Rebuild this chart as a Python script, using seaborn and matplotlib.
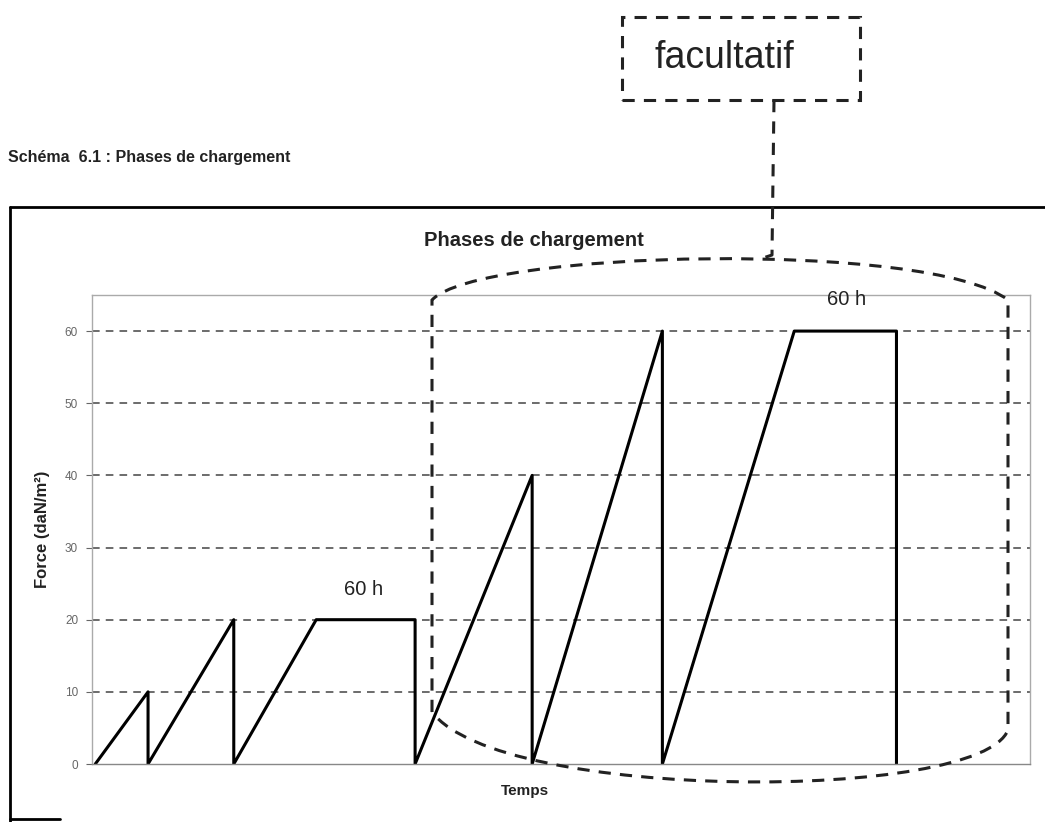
import numpy as np
import pandas as pd
import matplotlib
matplotlib.use("Agg")
import matplotlib.pyplot as plt
import seaborn as sns
from matplotlib.path import Path
from matplotlib.patches import PathPatch, Rectangle
from matplotlib.lines import Line2D

# Loading profile (time in hours, force in daN/m²)
temps = [0, 32, 32, 84, 84, 134, 194, 194, 265, 265, 344, 344, 424, 486, 486]
force = [0, 10, 0, 20, 0, 20, 20, 0, 40, 0, 60, 0, 60, 60, 0]
y_ticks = [0, 10, 20, 30, 40, 50, 60]
plateau_labels = ["60 h", "60 h"]
plateau_x = [163, 456]
plateau_y = [22.8, 63.0]

W, H = 1045, 822


def px(x, y):
    # pixel position -> figure fraction
    return x / W, 1 - y / H


sns.set_theme(style="white")
plt.rcParams['font.family'] = ['Liberation Sans', 'DejaVu Sans']

fig = plt.figure(figsize=(W / 100, H / 100), dpi=100)
ax = fig.add_axes([92 / W, 1 - 764 / H, (1030 - 92) / W, (764 - 295) / H])

df = pd.DataFrame({"Temps": temps, "Force": force})
sns.lineplot(data=df, x="Temps", y="Force", sort=False, estimator=None,
             color="black", linewidth=2.2, ax=ax)

ax.set_xlim(-2, 567)
ax.set_ylim(0, 65)
ax.set_yticks(y_ticks)
ax.set_xticks([])
ax.tick_params(axis="y", labelsize=8.5, colors="#666666", length=4, width=0.8, left=True, pad=6)
for yt in y_ticks[1:]:
    ax.axhline(yt, color="#444444", linewidth=1.1, linestyle=(0, (5, 4)), zorder=0)
for s in ax.spines.values():
    s.set_color("#aaaaaa")
    s.set_linewidth(1)
ax.spines["bottom"].set_color("#888888")

ax.set_xlabel("Temps", fontsize=11, fontweight="bold", color="#222222")
ax.set_ylabel("Force (daN/m²)", fontsize=12, fontweight="bold", color="#222222")
ax.xaxis.set_label_coords(0.462, -0.042)
ax.yaxis.set_label_coords(-0.045, 0.5)

for lab, xx, yy in zip(plateau_labels, plateau_x, plateau_y):
    ax.text(xx, yy, lab, fontsize=14.5, ha="center", va="bottom", color="#222222")

# Titles
fig.text(*px(8, 157), "Schéma  6.1 : Phases de chargement", fontsize=11.5,
         fontweight="bold", ha="left", va="center", color="#222222")
fig.text(*px(534, 241), "Phases de chargement", fontsize=14.5,
         fontweight="bold", ha="center", va="center", color="#222222")

# Outer frame
fig.add_artist(Line2D([px(10, 0)[0], px(10, 0)[0]], [px(0, 207)[1], px(0, 822)[1]],
                      color="black", linewidth=2, transform=fig.transFigure))
fig.add_artist(Line2D([px(10, 0)[0], 1.0], [px(0, 207)[1], px(0, 207)[1]],
                      color="black", linewidth=2, transform=fig.transFigure))
fig.add_artist(Line2D([px(10, 0)[0], px(60, 0)[0]], [px(0, 819)[1], px(0, 819)[1]],
                      color="black", linewidth=2, transform=fig.transFigure))

dash = (0, (4, 3))

# "facultatif" box
x0, y0 = px(622, 100)
x1, y1 = px(860, 17)
fig.add_artist(Rectangle((x0, y0), x1 - x0, y1 - y0, fill=False, edgecolor="#222222",
                         linewidth=2.2, linestyle=dash, transform=fig.transFigure))
fig.text(*px(724, 58), "facultatif", fontsize=27, ha="center", va="center", color="#222222")

# connector
cx = [px(774, 100), px(772, 255), px(760, 259)]
fig.add_artist(Line2D([p[0] for p in cx], [p[1] for p in cx], color="#222222",
                      linewidth=2.2, linestyle=dash, transform=fig.transFigure))

# dashed enclosure around the optional phases
verts = [px(432, 712), px(432, 300),
         px(478, 250), px(930, 240), px(1008, 300),
         px(1008, 730),
         px(980, 802), px(500, 802), px(432, 712)]
codes = [Path.MOVETO, Path.LINETO,
         Path.CURVE4, Path.CURVE4, Path.CURVE4,
         Path.LINETO,
         Path.CURVE4, Path.CURVE4, Path.CURVE4]
fig.add_artist(PathPatch(Path(verts, codes), fill=False, edgecolor="#222222",
                         linewidth=2.2, linestyle=dash, transform=fig.transFigure))

fig.savefig("out.png", dpi=100)
